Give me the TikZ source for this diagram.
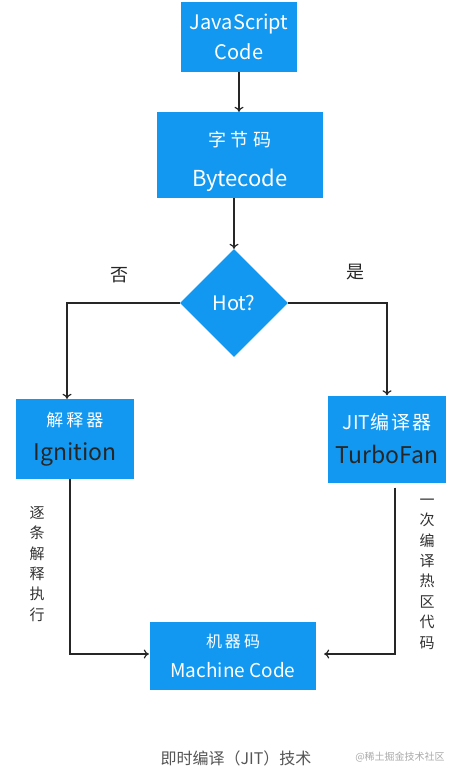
\documentclass[tikz,border=0pt]{standalone}
\usepackage{fontspec}
\setmainfont{Noto Sans CJK SC}
\usetikzlibrary{arrows.meta,shapes.geometric,calc}
\definecolor{boxblue}{RGB}{18,152,240}
\definecolor{capgray}{RGB}{85,85,85}
\definecolor{wmgray}{RGB}{170,170,170}
\tikzset{
  bluebox/.style={fill=boxblue,draw=none,inner sep=0pt,align=center,text=white},
  conn/.style={line width=1.3pt,draw=black!85},
  arr/.style={conn,-{To[length=5pt,width=9pt,line width=1.2pt]}},
  vlabel/.style={align=center,font=\fontsize{15}{20.4}\selectfont,text=black!80},
}
\begin{document}
\begin{tikzpicture}[x=1pt,y=-1pt]
\useasboundingbox[fill=white] (0,0) rectangle (459,772);
% boxes
\node[bluebox,minimum width=116pt,minimum height=70pt,font=\fontsize{20}{30}\selectfont] (js) at (239,37) {JavaScript\\Code};
\node[bluebox,minimum width=166pt,minimum height=86pt,
  label={[align=center,text=white,yshift=-6pt,font=\fontsize{22}{40}\selectfont]center:{\fontsize{18}{22}\selectfont 字\hspace{5pt}节\hspace{5pt}码}\\Bytecode}] (bc) at (240,155) {};
\node[diamond,fill=boxblue,draw=none,minimum width=108pt,minimum height=108pt,inner sep=0pt,text=white,font=\fontsize{20}{22}\selectfont] (hot) at (234,303) {Hot?};
\node[bluebox,minimum width=118pt,minimum height=80pt,font=\fontsize{23}{34}\selectfont] (ign) at (75,439) {{\fontsize{17}{20}\selectfont 解\hspace{3pt}释\hspace{3pt}器}\\\textcolor{black!85}{Ignition}};
\node[bluebox,minimum width=118pt,minimum height=87pt,font=\fontsize{23}{34}\selectfont] (tf) at (387,439) {{\fontsize{19}{20}\selectfont JIT编\hspace{2pt}译\hspace{2pt}器}\\\textcolor{black!85}{TurboFan}};
\node[bluebox,minimum width=166pt,minimum height=68pt,font=\fontsize{19}{30}\selectfont] (mc) at (233,656) {{\fontsize{16}{20}\selectfont 机\hspace{3pt}器\hspace{3pt}码}\\Machine Code};
% labels
\node[font=\fontsize{18}{20}\selectfont,text=black!85] (no) at (119,275) {否};
\node[font=\fontsize{18}{20}\selectfont,text=black!85] (yes) at (355,272) {是};
\node[vlabel] (lv) at (37,564) {逐\\条\\解\\释\\执\\行};
\node[vlabel] (rv) at (427,574) {一\\次\\编\\译\\热\\区\\代\\码};
\node[font=\fontsize{16}{20}\selectfont,text=capgray] (cap) at (236,758) {即时编译（JIT）技术};
\node[font=\fontsize{10}{12}\selectfont,text=wmgray] (wm) at (400,757) {@稀土掘金技术社区};
% helper coordinates
\coordinate (xl) at (67,0);
\coordinate (xl2) at (70,0);
\coordinate (xr2) at (395,0);
\coordinate (yb) at (0,654);
% connectors
\draw[arr] (js.south) -- (js.south |- bc.north);
\draw[arr] (hot.north |- bc.south) -- (hot.north);
\draw[arr] (hot.west) -| (xl |- ign.north);
\draw[arr] (hot.east) -| (tf.north);
\draw[arr,shorten >=1pt] (xl2 |- ign.south) -- (xl2 |- yb) -- (mc.west |- yb);
\draw[arr,shorten >=8pt] ($(xr2 |- tf.south)+(0,5)$) -- (xr2 |- yb) -- (mc.east |- yb);
\end{tikzpicture}
\end{document}
